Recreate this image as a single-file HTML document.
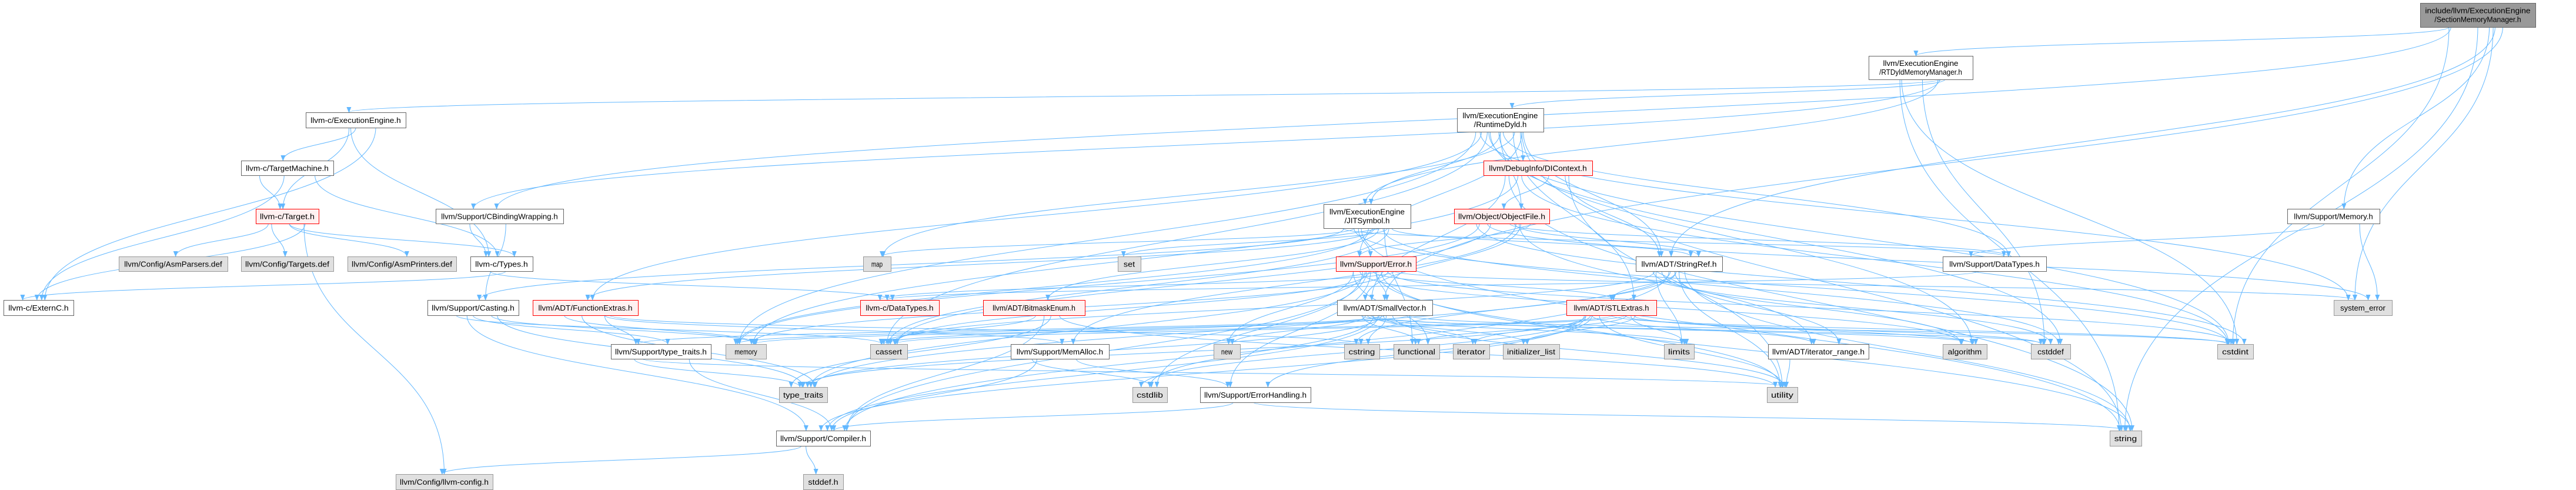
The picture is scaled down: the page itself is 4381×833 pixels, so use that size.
<!DOCTYPE html>
<html><head><meta charset="utf-8"><style>
html,body{margin:0;padding:0;background:#fff;width:4381px;height:833px;overflow:hidden}
svg{display:block}
text{font-family:"Liberation Sans",sans-serif;font-size:13px;fill:#000}
</style></head><body>
<svg id="g" width="4381" height="833" xmlns="http://www.w3.org/2000/svg">
<defs><marker id="a" markerWidth="10" markerHeight="8" refX="9" refY="4" orient="auto" markerUnits="userSpaceOnUse"><path d="M0,0 L10,4 L0,8 z" fill="#63b8ff"/></marker></defs>
<g id="edges" fill="none" stroke="#63b8ff" stroke-width="1"></g>
<g id="nodes"></g>
</svg>
<script>
var N={
SMM:[4116,5,4312,46,"include/llvm/ExecutionEngine|/SectionMemoryManager.h","root"],
RTD:[3178,95,3355,135,"llvm/ExecutionEngine|/RTDyldMemoryManager.h","w"],
CEE:[520,191,690,217,"llvm-c/ExecutionEngine.h","w"],
TM:[410,273,567,298,"llvm-c/TargetMachine.h","w"],
TGT:[435,355,542,380,"llvm-c/Target.h","r"],
ASP:[202,436,387,461,"llvm/Config/AsmParsers.def","g"],
TGD:[410,436,567,461,"llvm/Config/Targets.def","g"],
APR:[591,436,776,461,"llvm/Config/AsmPrinters.def","g"],
TYP:[800,436,906,461,"llvm-c/Types.h","w"],
CBW:[741,355,958,380,"llvm/Support/CBindingWrapping.h","w"],
EXC:[6,510,125,536,"llvm-c/ExternC.h","w"],
CAS:[727,510,882,536,"llvm/Support/Casting.h","w"],
FEX:[906,510,1085,536,"llvm/ADT/FunctionExtras.h","r"],
CFG:[673,806,838,832,"llvm/Config/llvm-config.h","g"],
MAP:[1468,436,1515,461,"map","g"],
SET:[1901,436,1940,461,"set","g"],
CDT:[1463,510,1597,536,"llvm-c/DataTypes.h","r"],
BME:[1672,510,1845,536,"llvm/ADT/BitmaskEnum.h","r"],
TTH:[1039,585,1209,610,"llvm/Support/type_traits.h","w"],
MEM:[1234,585,1303,610,"memory","g"],
CAS2:[1480,585,1543,610,"cassert","g"],
MAL:[1719,585,1886,610,"llvm/Support/MemAlloc.h","w"],
NEW:[2064,585,2109,610,"new","g"],
TT:[1325,658,1407,684,"type_traits","g"],
CSL:[1926,658,1985,684,"cstdlib","g"],
EH:[2041,658,2229,684,"llvm/Support/ErrorHandling.h","w"],
CMP:[1320,732,1480,758,"llvm/Support/Compiler.h","w"],
STD:[1366,806,1434,832,"stddef.h","g"],
RDY:[2478,184,2625,224,"llvm/ExecutionEngine|/RuntimeDyld.h","w"],
DIC:[2523,273,2708,298,"llvm/DebugInfo/DIContext.h","r"],
JIT:[2251,347,2399,388,"llvm/ExecutionEngine|/JITSymbol.h","w"],
OBJ:[2473,355,2635,380,"llvm/Object/ObjectFile.h","r"],
ERR:[2272,436,2408,461,"llvm/Support/Error.h","r"],
SR:[2782,436,2929,461,"llvm/ADT/StringRef.h","w"],
SV:[2274,510,2436,536,"llvm/ADT/SmallVector.h","w"],
STL:[2664,510,2817,536,"llvm/ADT/STLExtras.h","r"],
CST:[2286,585,2346,610,"cstring","g"],
FUN:[2370,585,2448,610,"functional","g"],
ITR:[2471,585,2533,610,"iterator","g"],
INL:[2556,585,2652,610,"initializer_list","g"],
LIM:[2830,585,2881,610,"limits","g"],
IRG:[3007,585,3178,610,"llvm/ADT/iterator_range.h","w"],
UTL:[3005,658,3057,684,"utility","g"],
MMY:[3890,355,4047,380,"llvm/Support/Memory.h","w"],
SDT:[3304,436,3480,461,"llvm/Support/DataTypes.h","w"],
SYS:[3969,510,4068,536,"system_error","g"],
ALG:[3304,585,3379,610,"algorithm","g"],
CSD:[3454,585,3521,610,"cstddef","g"],
CI:[3771,585,3832,610,"cstdint","g"],
STR:[3588,732,3642,758,"string","g"]
};
var E={
SMM:"RTD MMY SYS CI STR SV SR CBW",
RTD:"CEE JIT RDY CBW CSD CI STR",
CEE:"EXC TM TGT TYP",
TM:"EXC TGT TYP",
TGT:"EXC ASP TGD APR TYP CFG",
TYP:"EXC CDT",
CBW:"TYP CAS",
RDY:"JIT DIC OBJ ERR STL SR SDT FEX MAP MEM CAS2 CSD CI STR SYS ALG",
DIC:"OBJ SV CI MEM STR UTL SR",
JIT:"ERR BME FEX SR CAS SDT MAP SET MEM CAS2 CSD CI STR FUN",
OBJ:"ERR SR SV IRG SDT MAL CAS2 CI MEM SYS",
ERR:"STL SV CMP EH ALG CAS2 CI CSL FUN MEM NEW STR SYS TT UTL CDT",
SV:"CMP TTH ALG CAS2 CSD CI CSL CST FUN INL ITR LIM MEM NEW TT UTL",
STL:"IRG CMP EH ALG CAS2 CSD CI CSL FUN INL ITR LIM MEM TT UTL",
SR:"STL IRG CMP ALG CAS2 CSD CST LIM STR TT UTL",
IRG:"UTL",
CAS:"TTH CMP CAS2 MEM TT",
FEX:"MAL TTH CST MEM TT",
TTH:"CMP TT UTL",
BME:"CMP CAS2 TT UTL",
MAL:"CMP EH CSL",
EH:"CMP STR",
CMP:"CFG STD",
MMY:"SDT SYS",
SDT:"CDT"
};
var ns="http://www.w3.org/2000/svg";
var eg=document.getElementById("edges"),ng=document.getElementById("nodes");
function h(s){var x=0;for(var i=0;i<s.length;i++)x=(x*31+s.charCodeAt(i))%997;return x;}
for(var s in E){E[s].split(" ").forEach(function(t){
 var a=N[s],b=N[t];if(!a||!b)return;
 var k=h(s+t);
 var sw=a[2]-a[0],tw=b[2]-b[0];
 var sx=a[0]+sw*(0.2+0.6*((k%37)/36)),sy=a[3];
 var tx=b[0]+tw*(0.25+0.5*((k%23)/22)),ty=b[1];
 var d;
 if(ty>sy+5){var dy=(ty-sy)*0.5;d="M"+sx+","+sy+" C"+sx+","+(sy+dy)+" "+tx+","+(ty-dy)+" "+tx+","+ty;}
 else{var my=(a[1]+a[3])/2;sx=(b[0]>a[2])?a[2]:a[0];tx=(b[0]>a[2])?b[0]:b[2];ty=(b[1]+b[3])/2;d="M"+sx+","+my+" C"+((sx+tx)/2)+","+my+" "+((sx+tx)/2)+","+ty+" "+tx+","+ty;}
 var p=document.createElementNS(ns,"path");p.setAttribute("d",d);p.setAttribute("marker-end","url(#a)");eg.appendChild(p);
});}
for(var id in N){var n=N[id];
 var r=document.createElementNS(ns,"rect");
 r.setAttribute("x",n[0]+0.5);r.setAttribute("y",n[1]+0.5);r.setAttribute("width",n[2]-n[0]);r.setAttribute("height",n[3]-n[1]);
 var f="#fff",st="#666";
 if(n[5]=="g"){f="#e0e0e0";st="#999";}
 if(n[5]=="r"){f="#fff0f0";st="#ff0000";}
 if(n[5]=="root"){f="#999999";st="#666";}
 r.setAttribute("fill",f);r.setAttribute("stroke",st);ng.appendChild(r);
 var lines=n[4].split("|"),cx=(n[0]+n[2])/2,H=n[3]-n[1];
 lines.forEach(function(L,i){
  var t=document.createElementNS(ns,"text");
  var y=lines.length==1?(n[1]+H/2+5):(n[1]+H/2-3+i*15);
  t.setAttribute("x",cx);t.setAttribute("y",y);t.setAttribute("text-anchor","middle");
  var tl=Math.min(L.length*6.4,n[2]-n[0]-14);
  t.setAttribute("textLength",tl);t.setAttribute("lengthAdjust","spacingAndGlyphs");
  t.textContent=L;ng.appendChild(t);
 });
}
</script>
</body></html>
